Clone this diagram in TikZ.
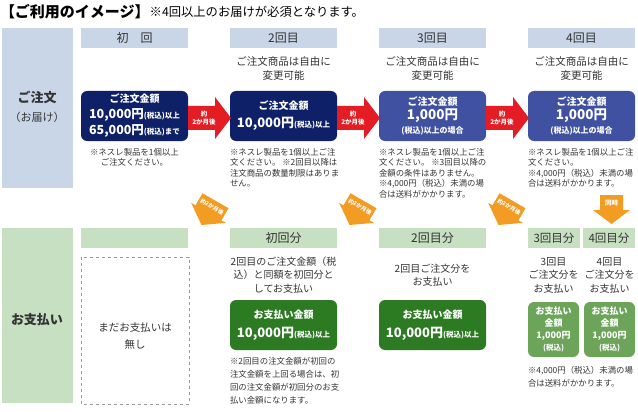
\documentclass[tikz,border=0pt]{standalone}
\usepackage{fontspec}
\setmainfont{Noto Sans CJK JP}
\definecolor{hblue}{RGB}{200,214,232}
\definecolor{hgreen}{RGB}{198,224,193}
\definecolor{navy}{RGB}{14,32,104}
\definecolor{midblue}{RGB}{63,81,160}
\definecolor{dgreen}{RGB}{44,122,34}
\definecolor{lgreen}{RGB}{108,165,90}
\definecolor{ared}{RGB}{228,28,36}
\definecolor{aorange}{RGB}{243,156,36}
\definecolor{txt}{RGB}{51,51,51}
\newcommand{\fs}[2]{\fontsize{#1}{#2}\selectfont}
\begin{document}
\begin{tikzpicture}[x=1pt,y=-1pt,
  every node/.style={inner sep=0pt,outer sep=0pt},
  hdr/.style={anchor=north west,minimum height=20,font=\fs{12}{14},text=txt},
  hdrb/.style={hdr,fill=hblue,minimum width=107},
  hdrg/.style={hdr,fill=hgreen,minimum width=107},
  hdrgs/.style={hdr,fill=hgreen,minimum width=52,font=\fs{11.5}{14}},
  desc/.style={align=center,font=\fs{10.5}{14},text=txt},
  pdesc/.style={align=center,font=\fs{10}{13.5},text=txt},
  note/.style={align=left,anchor=north west,font=\fs{8.4}{10.6},text=txt},
  pnote/.style={align=left,anchor=north west,font=\fs{8.4}{13},text=txt},
  obox/.style={anchor=north west,minimum width=107,minimum height=50,rounded corners=6,text=white,align=center,font=\bfseries\fs{10}{16}},
  pbox/.style={obox,fill=dgreen,font=\bfseries\fs{10}{19}},
  sbox/.style={anchor=north west,minimum width=51,minimum height=55,rounded corners=6,text=white,align=center,fill=lgreen,font=\bfseries\fs{9}{12}},
  side/.style={anchor=north west,minimum width=71,text=txt,align=center},
  redarrow/.style={fill=ared},
  orarrow/.style={fill=aorange},
  arrtxt/.style={text=white,align=center,font=\bfseries\fs{6.5}{8}},
]
\useasboundingbox (0,0) rectangle (638,412);
% title
\node[anchor=west,font=\bfseries\fs{15}{16}] (title) at (0,12) {【ご利用のイメージ】};
\node[anchor=west,font=\fs{12.3}{14},text=black] (titlenote) at (title.east) {※4回以上のお届けが必須となります。};
% side labels
\node[side,fill=hblue,minimum height=160] (sideA) at (2,28) {};
\node[font=\bfseries\fs{13}{15},text=txt] (sideA1) at (37,97) {ご注文};
\node[font=\fs{11}{13},text=txt] (sideA2) at (37,117) {（お届け）};
\node[side,fill=hgreen,minimum height=175] (sideB) at (2,228) {};
\node[font=\bfseries\fs{13}{15},text=txt] (sideB1) at (37,320) {お支払い};
% headers
\node[hdrb] (h1) at (81,28) {初　回};
\node[hdrb] (h2) at (230,28) {2回目};
\node[hdrb] (h3) at (379,28) {3回目};
\node[hdrb] (h4) at (528,28) {4回目};
% descriptions
\node[desc] (d2) at (283.5,69) {ご注文商品は自由に\\変更可能};
\node[desc] (d3) at (432.5,69) {ご注文商品は自由に\\変更可能};
\node[desc] (d4) at (581.5,69) {ご注文商品は自由に\\変更可能};
% order boxes
\node[obox,fill=navy] (o1) at (81,91) {ご注文金額\\{\fs{12.5}{16}10,000円}{\fs{7.5}{16}(税込)以上}\\{\fs{12.5}{16}65,000円}{\fs{7.5}{16}(税込)まで}};
\node[obox,fill=navy,font=\bfseries\fs{10}{18}] (o2) at (230,91) {ご注文金額\\{\fs{13}{18}10,000円}{\fs{7.5}{18}(税込)以上}};
\node[obox,fill=midblue,font=\bfseries\fs{10}{14}] (o3) at (379,91) {ご注文金額\\{\fs{13.5}{14}1,000円}\\{\fs{8}{14}(税込)以上の場合}};
\node[obox,fill=midblue,font=\bfseries\fs{10}{14}] (o4) at (528,91) {ご注文金額\\{\fs{13.5}{14}1,000円}\\{\fs{8}{14}(税込)以上の場合}};
% red arrows
\fill[redarrow] (o1.east |- 0,106) -- (215,106) -- (215,97) -- (231,118) -- (215,139) -- (215,130) -- (o1.east |- 0,130) -- cycle;
\node[arrtxt] (r1) at (204,118) {約\\2か月後};
\fill[redarrow] (o2.east |- 0,106) -- (364,106) -- (364,97) -- (380,118) -- (364,139) -- (364,130) -- (o2.east |- 0,130) -- cycle;
\node[arrtxt] (r2) at (353,118) {約\\2か月後};
\fill[redarrow] (o3.east |- 0,106) -- (513,106) -- (513,97) -- (529,118) -- (513,139) -- (513,130) -- (o3.east |- 0,130) -- cycle;
\node[arrtxt] (r3) at (502,118) {約\\2か月後};
% order notes
\node[note,anchor=north,align=center] (n1) at (134.5,148) {※ネスレ製品を1個以上\\ご注文ください。};
\node[note] (n2) at (230,148) {※ネスレ製品を1個以上ご注\\文ください。 ※2回目以降は\\注文商品の数量制限はありま\\せん。};
\node[note] (n3) at (379,148) {※ネスレ製品を1個以上ご注\\文ください。 ※3回目以降の\\金額の条件はありません。\\※4,000円（税込）未満の場\\合は送料がかかります。};
\node[note] (n4) at (528,148) {※ネスレ製品を1個以上ご注\\文ください。\\※4,000円（税込）未満の場\\合は送料がかかります。};
% orange diagonal arrows
\foreach \cx/\nm in {209/oa1,357/oa2,506/oa3}{
  \begin{scope}[shift={(\cx,212)},rotate=-30]
    \fill[orarrow] (-15,-13) -- (15,-13) -- (15,1) -- (20,1) -- (0,15) -- (-20,1) -- (-15,1) -- cycle;
    \node[arrtxt,transform shape,font=\bfseries\fs{5.6}{7}] (\nm) at (0,-6) {約2か月後};
  \end{scope}
}
% simultaneous arrow
\fill[orarrow] (600,195) -- (623,195) -- (623,210) -- (630,210) -- (611.5,224) -- (593,210) -- (600,210) -- cycle;
\node[arrtxt] (same) at (611.5,203) {同時};
% payment headers
\node[hdrg] (p1) at (81,228) {};
\node[hdrg] (p2) at (230,228) {初回分};
\node[hdrg] (p3) at (379,228) {2回目分};
\node[hdrgs] (p4a) at (528,228) {3回目分};
\node[hdrgs] (p4b) at (583,228) {4回目分};
% dashed box
\draw[gray!80,dashed,line width=0.8pt] (81,257) rectangle (189,404);
\node[pdesc,font=\fs{10.5}{17}] (none) at (135,336) {まだお支払いは\\無し};
% payment descriptions
\node[pdesc] (pd2) at (283.5,275) {2回目のご注文金額（税\\込）と同額を初回分と\\してお支払い};
\node[pdesc] (pd3) at (432.5,275) {2回目ご注文分を\\お支払い};
\node[pdesc] (pd4a) at (553.5,275) {3回目\\ご注文分を\\お支払い};
\node[pdesc] (pd4b) at (609.5,275) {4回目\\ご注文分を\\お支払い};
% payment boxes
\node[pbox] (b2) at (230,300) {お支払い金額\\{\fs{13}{19}10,000円}{\fs{7.5}{19}(税込)以上}};
\node[pbox] (b3) at (379,300) {お支払い金額\\{\fs{13}{19}10,000円}{\fs{7.5}{19}(税込)以上}};
\node[sbox] (b4a) at (528,302) {お支払い\\金額\\1,000円\\{\fs{7.5}{12}(税込)}};
\node[sbox] (b4b) at (584,302) {お支払い\\金額\\1,000円\\{\fs{7.5}{12}(税込)}};
% payment notes
\node[pnote] (pn2) at (230,357) {※2回目の注文金額が初回の\\注文金額を上回る場合は、初\\回の注文金額が初回分のお支\\払い金額になります。};
\node[pnote] (pn4) at (528,366) {※4,000円（税込）未満の場\\合は送料がかかります。};
\end{tikzpicture}
\end{document}
